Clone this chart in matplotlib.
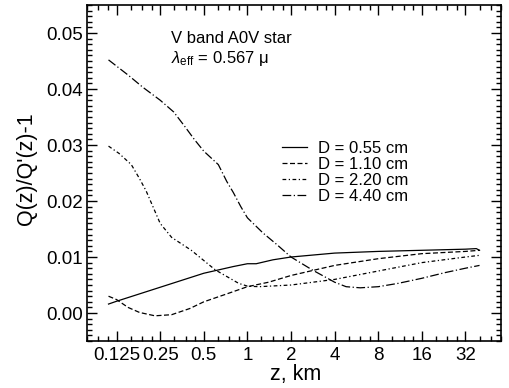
import matplotlib
matplotlib.use("Agg")
import matplotlib.pyplot as plt
from matplotlib.ticker import NullFormatter
import numpy as np

plt.rcParams['font.family'] = ['Liberation Sans', 'DejaVu Sans']
plt.rcParams['mathtext.fontset'] = 'custom'
plt.rcParams['mathtext.rm'] = 'Liberation Sans'
plt.rcParams['mathtext.it'] = 'Liberation Sans:italic'

# D = 0.55 cm
z1 = [0.11, 0.125, 0.25, 0.5, 0.8, 1.0, 1.15, 1.5, 2, 4, 8, 16, 32, 38, 40]
q1 = [0.0016, 0.0021, 0.0046, 0.0071, 0.0083, 0.0088, 0.0088, 0.0095, 0.0100,
      0.0107, 0.0110, 0.0112, 0.0114, 0.0115, 0.0112]
# D = 1.10 cm
z2 = [0.11, 0.125, 0.15, 0.18, 0.23, 0.3, 0.4, 0.5, 0.7, 1.0, 1.4, 2, 4, 8, 16, 32, 40]
q2 = [0.0030, 0.0024, 0.0010, 0.0001, -0.0005, -0.0003, 0.0008, 0.0020, 0.0033,
      0.0047, 0.0055, 0.0067, 0.0085, 0.0097, 0.0106, 0.0110, 0.0112]
# D = 2.20 cm
z3 = [0.11, 0.13, 0.158, 0.18, 0.2, 0.25, 0.3, 0.41, 0.6, 0.87, 1.0, 1.2, 2, 4, 8, 16, 32, 40]
q3 = [0.0298, 0.0285, 0.0265, 0.0240, 0.0218, 0.0160, 0.0135, 0.0112, 0.0077,
      0.0053, 0.0048, 0.0047, 0.0050, 0.0060, 0.0075, 0.0090, 0.0100, 0.0103]
# D = 4.40 cm
z4 = [0.11, 0.15, 0.19, 0.25, 0.31, 0.37, 0.43, 0.5, 0.63, 0.72, 0.8, 0.9, 1.0,
      1.28, 1.6, 2.0, 2.8, 4.0, 4.8, 6, 8, 11, 16, 23, 32, 40]
q4 = [0.0452, 0.0425, 0.0403, 0.0380, 0.0359, 0.0333, 0.0310, 0.0289, 0.0265,
      0.0235, 0.0215, 0.0190, 0.0170, 0.0143, 0.0122, 0.0100, 0.0077, 0.0055,
      0.0047, 0.0045, 0.0047, 0.0053, 0.0062, 0.0072, 0.0080, 0.0085]

labels = ['D = 0.55 cm', 'D = 1.10 cm', 'D = 2.20 cm', 'D = 4.40 cm']
xticks = [0.125, 0.25, 0.5, 1, 2, 4, 8, 16, 32]
xticklabels = ['0.125', '0.25', '0.5', '1', '2', '4', '8', '16', '32']
yticks = [0.00, 0.01, 0.02, 0.03, 0.04, 0.05]

fig = plt.figure(figsize=(5.09, 3.88), dpi=100)
ax = fig.add_axes([0.1709, 0.1211, 0.8128, 0.866])

styles = ['-', (0, (4, 2)), (0, (3, 2, 1, 2)), (0, (7, 2, 1, 2))]
for zz, qq, ls, lab in zip([z1, z2, z3, z4], [q1, q2, q3, q4], styles, labels):
    ax.plot(zz, qq, color='black', lw=0.9, ls=ls, label=lab)

ax.set_xscale('log', base=2)
ax.set_xlim(0.1107, 40)
ax.set_ylim(-0.005, 0.055)
ax.set_xticks(xticks)
ax.set_xticklabels(xticklabels)
minx = []
for t in xticks + [64]:
    for s in [0.625, 0.75, 0.875]:
        minx.append(t * s)
ax.set_xticks(minx, minor=True)
ax.xaxis.set_minor_formatter(NullFormatter())
ax.set_yticks(yticks)
ax.set_yticklabels(['%.2f' % v for v in yticks])
ax.set_yticks(np.arange(-0.005, 0.0551, 0.001), minor=True)
ax.yaxis.set_minor_formatter(NullFormatter())

ax.tick_params(which='both', direction='in', top=True, right=True,
               labelsize=13.5, width=1)
ax.tick_params(which='major', length=7)
ax.tick_params(which='minor', length=3.5)
ax.tick_params(axis='y', pad=3)
ax.tick_params(axis='x', pad=4)
for sp in ax.spines.values():
    sp.set_linewidth(1.2)

ax.set_ylabel("Q(z)/Q'(z)-1", fontsize=15.5)
ax.yaxis.set_label_coords(-0.121, 0.513)
ax.set_xlabel("z, km", fontsize=15.5)
ax.xaxis.set_label_coords(0.505, -0.068)

ax.text(0.202, 0.887, "V band A0V star", transform=ax.transAxes, fontsize=12,
        va='baseline')
ax.text(0.202, 0.827, r"$\lambda_{\rm eff}$ = 0.567 μ", transform=ax.transAxes,
        fontsize=12, va='baseline')

ax.legend(loc='upper left', bbox_to_anchor=(0.4706, 0.595), frameon=False,
          fontsize=12, handlelength=1.5, handletextpad=0.65, labelspacing=0.05,
          borderpad=0, borderaxespad=0)

fig.savefig('out.png', dpi=100)
